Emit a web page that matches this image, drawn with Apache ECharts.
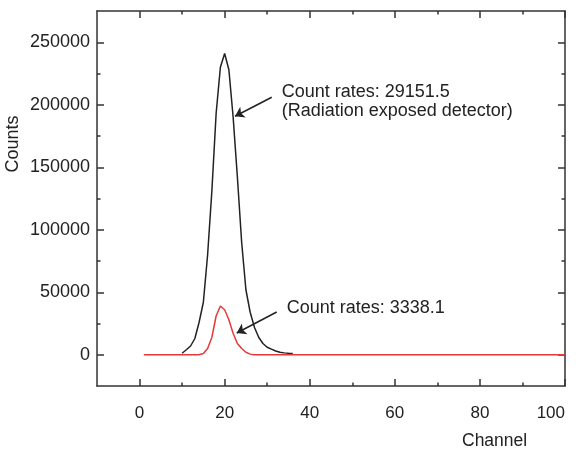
<!DOCTYPE html>
<html>
<head>
<meta charset="utf-8">
<script src="https://cdn.jsdelivr.net/npm/echarts@6/dist/echarts.min.js"></script>
<style>html,body{margin:0;padding:0;background:#fff}#c{width:576px;height:451px}</style>
</head>
<body>
<div id="c"></div>
<script>
// Data
const blackChannels = [10,11,12,13,14,15,16,17,18,19,20,21,22,23,24,25,26,27,28,29,30,31,32,33,34,35,36];
const blackCounts   = [1200,4000,7000,13000,26000,42000,80000,131000,193000,230000,241000,228000,190000,142000,90000,52000,34000,22000,14000,9000,6000,4500,3000,2000,1500,1200,1000];
const redChannels = [1,14,15,16,17,18,19,20,21,22,23,24,25,26,27,100];
const redCounts   = [0,0,1000,5000,14000,31000,39000,36000,28000,17000,9000,5000,2000,500,0,0];
const xMajorTicks = [0,20,40,60,80,100];
const xMinorTicks = [10,30,50,70,90];
const yMajorTicks = [0,50000,100000,150000,200000,250000];
const yMinorTicks = [25000,75000,125000,175000,225000];
const annotations = [
  {text:'Count rates: 29151.5\n(Radiation exposed detector)', at:[33.4,202700], from:[31.07,206000], to:[22.44,190800]},
  {text:'Count rates: 3338.1', at:[34.6,37600], from:[32.24,34200], to:[22.84,17400]}
];

const FONT = "'Liberation Sans', Arial, sans-serif";
const AX = '#333';
const TXT = '#222';

function xAx(pos, ticks, len, labels, line){
  return {type:'value', position:pos, min:-10, max:100, interval:10,
    axisLine:{show:line, onZero:false, lineStyle:{color:AX, width:1.5}},
    axisTick:{show:true, inside:true, length:len, customValues:ticks, lineStyle:{color:AX, width:1.5}},
    axisLabel: labels ? {show:true, customValues:xMajorTicks, formatter:v=>String(v), fontSize:17, fontFamily:FONT, color:TXT, margin:19, alignMaxLabel:'right'} : {show:false},
    splitLine:{show:false}};
}
function yAx(pos, ticks, len, labels, line){
  return {type:'value', position:pos, min:-25000, max:275000, interval:25000,
    axisLine:{show:line, onZero:false, lineStyle:{color:AX, width:1.5}},
    axisTick:{show:true, inside:true, length:len, customValues:ticks, lineStyle:{color:AX, width:1.5}},
    axisLabel: labels ? {show:true, customValues:yMajorTicks, formatter:v=>String(v), fontSize:18, fontFamily:FONT, color:TXT, margin:7} : {show:false},
    splitLine:{show:false}};
}

const chart = echarts.init(document.getElementById('c'), null, {renderer:'canvas'});
chart.setOption({
  animation:false,
  grid:{left:97, right:11, top:11, bottom:65, containLabel:false},
  xAxis:[xAx('bottom', xMajorTicks, 7, true, true), xAx('bottom', xMinorTicks, 3.5, false, false),
         xAx('top', xMajorTicks, 7, false, true), xAx('top', xMinorTicks, 3.5, false, false)],
  yAxis:[yAx('left', yMajorTicks, 7, true, true), yAx('left', yMinorTicks, 3.5, false, false),
         yAx('right', yMajorTicks, 7, false, true), yAx('right', yMinorTicks, 3.5, false, false)],
  graphic:[
    {type:'text', x:13, y:144, rotation:Math.PI/2, style:{text:'Counts', font:'18px '+FONT, fill:TXT, align:'center', verticalAlign:'middle'}},
    {type:'text', x:462, y:441, style:{text:'Channel', font:'17.5px '+FONT, fill:TXT, align:'left', verticalAlign:'middle'}}
  ],
  series:[
    {type:'line', name:'exposed', data:blackChannels.map((c,i)=>[c,blackCounts[i]]), showSymbol:false, symbol:'none',
      lineStyle:{color:'#222', width:1.5}, z:2, silent:true,
      markLine:{silent:true, symbol:['none','arrow'], symbolSize:9, animation:false,
        lineStyle:{color:'#222', width:1.5, type:'solid'}, label:{show:false},
        data:annotations.map(a=>[{coord:a.from},{coord:a.to}])},
      markPoint:{silent:true, symbol:'circle', symbolSize:0, animation:false,
        label:{show:true, position:'right', distance:0, fontSize:18, lineHeight:19.5, fontFamily:FONT, color:TXT, align:'left', verticalAlign:'middle'},
        data:annotations.map(a=>({coord:a.at, value:a.text, label:{formatter:a.text}}))}
    },
    {type:'line', name:'normal', data:redChannels.map((c,i)=>[c,redCounts[i]]), showSymbol:false, symbol:'none',
      lineStyle:{color:'#e8383a', width:1.5}, z:3, silent:true}
  ]
});
</script>
</body>
</html>
